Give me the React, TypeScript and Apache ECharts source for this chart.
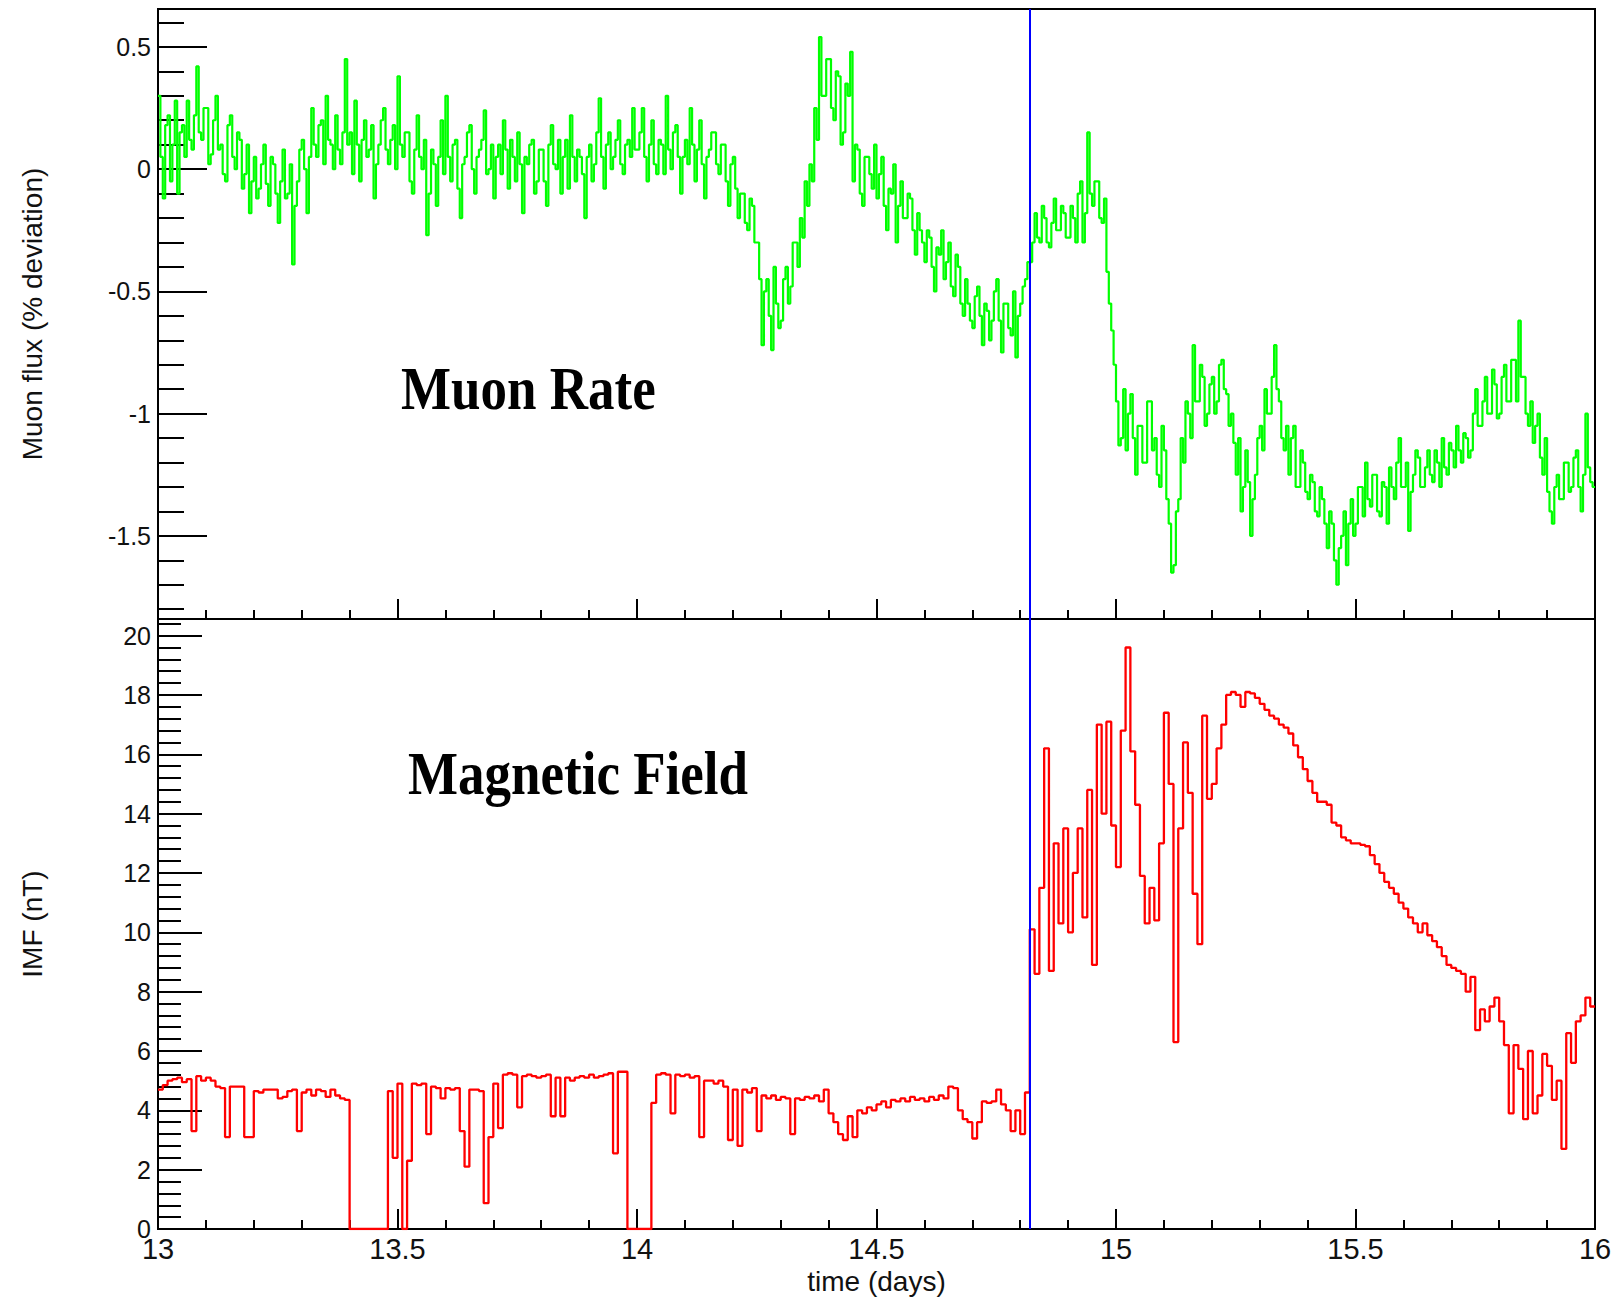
import React, { useEffect, useRef } from "react";
import * as echarts from "echarts";

// ---- data ----
const START_DAY = 13;
const END_DAY = 16;
const MUON_BIN = 0.005;
const IMF_BIN = 0.01;
const EVENT_DAY = 14.824;

// Muon flux, % deviation, one value per 0.005-day bin from day 13.000
const muonFlux = [
  0.30, 0.05, -0.12, 0.18, 0.22, -0.05, 0.10, 0.28, -0.10, 0.15,
  0.18, 0.05, 0.28, 0.12, 0.08, 0.22, 0.42, 0.15, 0.12, 0.25,
  0.25, 0.02, 0.06, 0.20, 0.30, 0.08, 0.10, -0.02, -0.05, 0.18,
  0.22, 0.05, 0.00, 0.15, 0.12, -0.08, -0.02, 0.10, -0.18, -0.05,
  0.05, -0.12, -0.08, 0.02, 0.10, -0.06, -0.15, 0.05, 0.02, -0.10,
  -0.22, -0.05, 0.08, -0.12, -0.10, 0.02, -0.39, -0.15, -0.05, 0.08,
  0.12, 0.00, -0.18, 0.05, 0.25, 0.10, 0.05, 0.18, 0.20, 0.02,
  0.30, 0.12, 0.10, 0.00, 0.22, 0.08, 0.02, 0.15, 0.45, 0.10,
  0.15, -0.02, 0.28, 0.10, -0.05, 0.12, 0.20, 0.05, 0.08, 0.18,
  -0.12, 0.02, 0.10, 0.20, 0.25, 0.08, 0.02, 0.12, 0.18, 0.00,
  0.38, 0.10, 0.05, 0.15, 0.15, -0.05, -0.10, 0.08, 0.22, 0.05,
  0.00, 0.12, -0.27, -0.10, 0.08, 0.02, -0.15, 0.05, 0.20, -0.02,
  0.30, 0.05, -0.05, 0.10, 0.12, -0.08, -0.20, 0.02, 0.05, 0.15,
  0.18, 0.00, -0.10, 0.05, 0.08, 0.12, 0.24, -0.02, 0.00, 0.10,
  -0.12, 0.05, 0.10, -0.02, 0.20, 0.08, -0.08, 0.12, 0.05, -0.05,
  0.15, 0.02, -0.18, 0.05, 0.02, 0.10, 0.12, -0.10, -0.05, 0.08,
  0.08, -0.05, -0.15, 0.10, 0.18, 0.02, 0.00, 0.12, -0.10, 0.05,
  0.12, -0.08, 0.22, 0.05, -0.05, 0.08, 0.05, -0.02, -0.20, 0.05,
  0.10, -0.05, 0.02, 0.15, 0.29, 0.05, -0.08, 0.10, 0.15, 0.00,
  0.05, 0.12, 0.20, 0.02, -0.02, 0.10, 0.12, 0.05, 0.25, 0.08,
  0.08, 0.15, 0.25, 0.05, -0.05, 0.10, 0.20, 0.02, -0.02, 0.12,
  0.10, -0.02, 0.30, 0.08, 0.00, 0.15, 0.18, 0.05, -0.10, 0.05,
  0.12, 0.02, 0.25, 0.10, -0.05, 0.08, 0.20, 0.02, -0.12, 0.05,
  0.08, 0.15, 0.15, 0.02, -0.02, 0.10, 0.10, -0.05, -0.15, 0.02,
  0.05, -0.08, -0.20, -0.10, -0.10, -0.22, -0.25, -0.12, -0.15, -0.30,
  -0.30, -0.45, -0.72, -0.50, -0.45, -0.60, -0.74, -0.40, -0.55, -0.65,
  -0.62, -0.45, -0.40, -0.55, -0.48, -0.30, -0.30, -0.40, -0.20, -0.28,
  -0.05, -0.15, 0.02, -0.05, 0.25, 0.12, 0.54, 0.30, 0.30, 0.45,
  0.45, 0.25, 0.20, 0.40, 0.38, 0.10, 0.15, 0.35, 0.30, 0.48,
  -0.05, 0.10, 0.08, -0.10, -0.15, 0.05, 0.05, -0.02, -0.08, 0.10,
  -0.12, -0.02, 0.05, -0.15, -0.25, -0.08, -0.10, 0.02, -0.30, -0.15,
  -0.05, -0.20, -0.20, -0.10, -0.12, -0.25, -0.35, -0.18, -0.25, -0.30,
  -0.38, -0.25, -0.28, -0.40, -0.50, -0.32, -0.35, -0.25, -0.45, -0.38,
  -0.30, -0.48, -0.52, -0.35, -0.40, -0.55, -0.60, -0.45, -0.55, -0.62,
  -0.65, -0.52, -0.48, -0.60, -0.72, -0.55, -0.58, -0.70, -0.62, -0.50,
  -0.45, -0.62, -0.75, -0.55, -0.55, -0.65, -0.68, -0.50, -0.77, -0.60,
  -0.55, -0.48, -0.45, -0.38, -0.38, -0.30, -0.18, -0.28, -0.30, -0.15,
  -0.20, -0.30, -0.32, -0.22, -0.12, -0.25, -0.25, -0.15, -0.18, -0.28,
  -0.28, -0.15, -0.20, -0.30, -0.10, -0.05, -0.30, -0.18, 0.15, -0.10,
  -0.15, -0.05, -0.05, -0.20, -0.22, -0.12, -0.42, -0.55, -0.66, -0.80,
  -0.95, -1.13, -1.10, -0.90, -1.15, -1.00, -0.92, -1.10, -1.25, -1.05,
  -1.05, -1.20, -1.20, -0.95, -0.95, -1.15, -1.10, -1.25, -1.30, -1.05,
  -1.15, -1.35, -1.45, -1.65, -1.62, -1.40, -1.35, -1.10, -1.20, -0.95,
  -1.00, -1.10, -0.72, -0.95, -0.95, -0.80, -0.85, -1.05, -1.00, -0.88,
  -0.85, -1.00, -0.95, -0.80, -0.78, -0.90, -0.92, -1.05, -1.00, -1.12,
  -1.25, -1.10, -1.40, -1.30, -1.15, -1.28, -1.50, -1.35, -1.25, -1.10,
  -1.05, -1.15, -0.90, -1.00, -1.00, -0.85, -0.72, -0.90, -0.95, -1.10,
  -1.15, -1.05, -1.25, -1.10, -1.05, -1.30, -1.30, -1.15, -1.20, -1.32,
  -1.35, -1.25, -1.28, -1.40, -1.42, -1.30, -1.35, -1.45, -1.55, -1.40,
  -1.45, -1.60, -1.70, -1.55, -1.50, -1.40, -1.62, -1.45, -1.35, -1.50,
  -1.45, -1.30, -1.30, -1.42, -1.20, -1.35, -1.38, -1.25, -1.25, -1.40,
  -1.42, -1.28, -1.30, -1.45, -1.22, -1.30, -1.35, -1.20, -1.10, -1.30,
  -1.30, -1.20, -1.48, -1.32, -1.25, -1.15, -1.18, -1.30, -1.30, -1.22,
  -1.15, -1.25, -1.28, -1.15, -1.20, -1.30, -1.10, -1.22, -1.25, -1.12,
  -1.15, -1.22, -1.05, -1.15, -1.20, -1.08, -1.10, -1.18, -1.15, -1.00,
  -0.90, -1.05, -1.05, -0.95, -0.85, -1.00, -1.00, -0.82, -0.88, -1.02,
  -1.00, -0.85, -0.80, -0.95, -0.95, -0.78, -0.78, -0.95, -0.62, -0.85,
  -0.85, -1.00, -1.05, -0.95, -1.12, -1.05, -1.00, -1.18, -1.25, -1.10,
  -1.32, -1.40, -1.45, -1.30, -1.25, -1.35, -1.35, -1.20, -1.20, -1.32,
  -1.30, -1.18, -1.15, -1.30, -1.40, -1.25, -1.00, -1.22, -1.28, -1.30,
];

// IMF magnitude, nT, one value per 0.01-day bin from day 13.00 (0 = data gap)
const imfField = [
  4.7, 4.85, 5.0, 5.05, 5.1, 4.95, 5.05, 3.3, 5.15, 5.0,
  5.1, 5.0, 4.8, 4.75, 3.1, 4.8, 4.8, 4.8, 3.1, 3.1,
  4.65, 4.6, 4.7, 4.7, 4.7, 4.4, 4.45, 4.65, 4.7, 3.3,
  4.6, 4.7, 4.5, 4.7, 4.65, 4.45, 4.7, 4.5, 4.4, 4.35,
  0, 0, 0, 0, 0, 0, 0, 0, 4.65, 2.4,
  4.9, 0, 2.3, 4.9, 4.85, 4.9, 3.2, 4.8, 4.75, 4.4,
  4.75, 4.7, 4.75, 3.3, 2.1, 4.7, 4.7, 4.65, 0.87, 3.1,
  4.9, 3.4, 5.2, 5.25, 5.2, 4.1, 5.15, 5.2, 5.15, 5.1,
  5.15, 5.2, 3.8, 5.1, 3.8, 5.1, 5.0, 5.1, 5.15, 5.1,
  5.2, 5.1, 5.15, 5.2, 5.25, 2.55, 5.3, 5.3, 0, 0,
  0, 0, 0, 4.25, 5.2, 5.25, 5.2, 3.9, 5.2, 5.15,
  5.2, 5.1, 5.15, 3.1, 5.0, 5.0, 4.9, 5.0, 4.8, 3.0,
  4.7, 2.8, 4.7, 4.6, 4.75, 3.3, 4.5, 4.4, 4.5, 4.35,
  4.45, 4.4, 3.2, 4.4, 4.35, 4.45, 4.4, 4.5, 4.3, 4.7,
  3.9, 3.6, 3.2, 3.0, 3.8, 3.1, 4.0, 3.9, 4.1, 4.0,
  4.2, 4.3, 4.1, 4.35, 4.3, 4.4, 4.3, 4.45, 4.35, 4.4,
  4.3, 4.45, 4.35, 4.5, 4.4, 4.8, 4.75, 4.0, 3.7, 3.6,
  3.05, 3.6, 4.3, 4.25, 4.3, 4.7, 4.2, 4.0, 3.3, 4.0,
  3.2, 4.6, 10.1, 8.6, 11.5, 16.2, 8.7, 13.0, 10.3, 13.5,
  10.0, 12.0, 13.5, 10.5, 14.8, 8.9, 17.0, 14.0, 17.1, 13.6,
  12.2, 16.8, 19.6, 16.1, 14.3, 11.9, 10.3, 11.5, 10.4, 13.0,
  17.4, 15.0, 6.3, 13.5, 16.4, 14.7, 11.3, 9.6, 17.3, 14.5,
  15.0, 16.2, 17.0, 18.0, 18.1, 18.0, 17.6, 18.1, 18.05, 17.9,
  17.7, 17.5, 17.3, 17.2, 17.0, 16.9, 16.7, 16.3, 15.9, 15.5,
  15.1, 14.7, 14.4, 14.4, 14.3, 13.7, 13.6, 13.2, 13.1, 13.0,
  13.0, 12.95, 12.9, 12.6, 12.3, 12.0, 11.7, 11.5, 11.3, 11.0,
  10.8, 10.5, 10.3, 10.0, 10.3, 9.9, 9.7, 9.5, 9.2, 8.9,
  8.8, 8.7, 8.6, 8.0, 8.5, 6.7, 7.4, 7.0, 7.5, 7.8,
  7.0, 6.2, 3.9, 6.2, 5.4, 3.7, 6.0, 3.9, 4.5, 5.9,
  5.5, 4.35, 5.0, 2.7, 6.6, 5.6, 7.0, 7.2, 7.8, 7.5,
];

// ---- tick positions / labels ----
const xMajorTicks = [13, 13.5, 14, 14.5, 15, 15.5, 16];
const xMinorTicks = [
  13.1, 13.2, 13.3, 13.4, 13.6, 13.7, 13.8, 13.9,
  14.1, 14.2, 14.3, 14.4, 14.6, 14.7, 14.8, 14.9,
  15.1, 15.2, 15.3, 15.4, 15.6, 15.7, 15.8, 15.9,
];
const muonMajorTicks = [-1.5, -1, -0.5, 0, 0.5];
const muonMinorTicks = [
  -1.8, -1.7, -1.6, -1.4, -1.3, -1.2, -1.1, -0.9, -0.8, -0.7, -0.6,
  -0.4, -0.3, -0.2, -0.1, 0.1, 0.2, 0.3, 0.4, 0.6,
];
const imfMajorTicks = [0, 2, 4, 6, 8, 10, 12, 14, 16, 18, 20];
const imfMinorTicks = [
  0.4, 0.8, 1.2, 1.6, 2.4, 2.8, 3.2, 3.6, 4.4, 4.8, 5.2, 5.6,
  6.4, 6.8, 7.2, 7.6, 8.4, 8.8, 9.2, 9.6, 10.4, 10.8, 11.2, 11.6,
  12.4, 12.8, 13.2, 13.6, 14.4, 14.8, 15.2, 15.6, 16.4, 16.8, 17.2, 17.6,
  18.4, 18.8, 19.2, 19.6, 20.4,
];
const muonRange = [-1.84, 0.655];
const imfRange = [0, 20.56];

const toSteps = (vals: number[], bin: number) => {
  const pts: number[][] = vals.map((v, i) => [
    Number((START_DAY + i * bin).toFixed(3)),
    v,
  ]);
  pts.push([END_DAY, vals[vals.length - 1]]);
  return pts;
};

const SANS = '"Liberation Sans", Arial, Helvetica, sans-serif';
const SERIF = '"Liberation Serif", "Times New Roman", serif';

export default function App() {
  const ref = useRef<HTMLDivElement>(null);

  useEffect(() => {
    document.body.style.margin = "0";
    if (!ref.current) return;
    const chart = echarts.init(ref.current, undefined, { renderer: "svg" });

    const tickStyle = { color: "#000", width: 2 };
    const xAxisBase = (gridIndex: number) => ({
      type: "value" as const,
      gridIndex,
      position: "bottom" as const,
      min: START_DAY,
      max: END_DAY,
      axisLine: { show: false, onZero: false },
      splitLine: { show: false },
    });
    const yAxisBase = (gridIndex: number, range: number[]) => ({
      type: "value" as const,
      gridIndex,
      position: "left" as const,
      offset: 0,
      min: range[0],
      max: range[1],
      axisLine: { show: false, onZero: false },
      splitLine: { show: false },
    });

    const markLine = {
      silent: true,
      symbol: ["none", "none"],
      label: { show: false },
      lineStyle: { color: "#0000ff", width: 2, type: "solid" },
      data: [{ xAxis: EVENT_DAY }],
      animation: false,
    };

    chart.setOption({
      animation: false,
      backgroundColor: "#ffffff",
      grid: [
        {
          left: 158, top: 9, width: 1437, height: 610,
          show: true, borderColor: "#000", borderWidth: 2,
        },
        {
          left: 158, top: 619, width: 1437, height: 610,
          show: true, borderColor: "#000", borderWidth: 2,
        },
      ],
      xAxis: [
        {
          ...xAxisBase(0),
          axisTick: { inside: true, length: 20, customValues: xMajorTicks, lineStyle: tickStyle },
          axisLabel: { show: false },
        },
        {
          ...xAxisBase(0),
          axisTick: { inside: true, length: 9, customValues: xMinorTicks, lineStyle: tickStyle },
          axisLabel: { show: false },
        },
        {
          ...xAxisBase(1),
          axisTick: { inside: true, length: 20, customValues: xMajorTicks, lineStyle: tickStyle },
          axisLabel: {
            customValues: xMajorTicks,
            fontSize: 29,
            fontFamily: SANS,
            color: "#111",
            margin: 5,
          },
          name: "time (days)",
          nameLocation: "middle",
          nameGap: 38,
          nameTextStyle: { fontSize: 28, fontFamily: SANS, color: "#111" },
        },
        {
          ...xAxisBase(1),
          axisTick: { inside: true, length: 9, customValues: xMinorTicks, lineStyle: tickStyle },
          axisLabel: { show: false },
        },
      ],
      yAxis: [
        {
          ...yAxisBase(0, muonRange),
          axisTick: { inside: true, length: 49, customValues: muonMajorTicks, lineStyle: tickStyle },
          axisLabel: {
            customValues: muonMajorTicks,
            fontSize: 25,
            fontFamily: SANS,
            color: "#111",
            margin: 7,
          },
          name: "Muon flux (% deviation)",
          nameLocation: "middle",
          nameRotate: 90,
          nameGap: 112,
          nameTextStyle: { fontSize: 28, fontFamily: SANS, color: "#111" },
        },
        {
          ...yAxisBase(0, muonRange),
          axisTick: { inside: true, length: 26, customValues: muonMinorTicks, lineStyle: tickStyle },
          axisLabel: { show: false },
        },
        {
          ...yAxisBase(1, imfRange),
          axisTick: { inside: true, length: 44, customValues: imfMajorTicks, lineStyle: tickStyle },
          axisLabel: {
            customValues: imfMajorTicks,
            fontSize: 25,
            fontFamily: SANS,
            color: "#111",
            margin: 7,
          },
          name: "IMF (nT)",
          nameLocation: "middle",
          nameRotate: 90,
          nameGap: 112,
          nameTextStyle: { fontSize: 28, fontFamily: SANS, color: "#111" },
        },
        {
          ...yAxisBase(1, imfRange),
          axisTick: { inside: true, length: 23, customValues: imfMinorTicks, lineStyle: tickStyle },
          axisLabel: { show: false },
        },
      ],
      series: [
        {
          name: "Muon Rate",
          type: "line",
          xAxisIndex: 0,
          yAxisIndex: 0,
          step: "end",
          showSymbol: false,
          symbol: "none",
          data: toSteps(muonFlux, MUON_BIN),
          lineStyle: { color: "#00ff00", width: 2.2 },
          markLine,
          z: 2,
        },
        {
          name: "Magnetic Field",
          type: "line",
          xAxisIndex: 2,
          yAxisIndex: 2,
          step: "end",
          showSymbol: false,
          symbol: "none",
          data: toSteps(imfField, IMF_BIN),
          lineStyle: { color: "#ff0000", width: 2.3 },
          markLine,
          z: 2,
        },
      ],
      graphic: [
        {
          type: "text",
          x: 401,
          y: 388,
          scaleY: 1.15,
          style: {
            text: "Muon Rate",
            font: `bold 53px ${SERIF}`,
            fill: "#000",
            align: "left",
            verticalAlign: "middle",
          },
        },
        {
          type: "text",
          x: 408,
          y: 773,
          scaleY: 1.15,
          style: {
            text: "Magnetic Field",
            font: `bold 53px ${SERIF}`,
            fill: "#000",
            align: "left",
            verticalAlign: "middle",
          },
        },
      ],
    });

    return () => chart.dispose();
  }, []);

  return <div ref={ref} style={{ width: 1621, height: 1300 }} />;
}
